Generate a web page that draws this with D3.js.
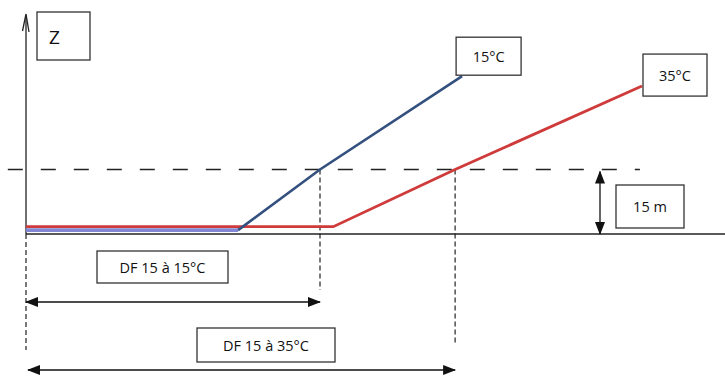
<!DOCTYPE html>
<html><head><meta charset="utf-8">
<script src="https://cdn.jsdelivr.net/npm/d3@7"></script>
<style>body{margin:0;background:#fff}svg{display:block}text{font-family:"Open Sans",Lato,sans-serif;fill:#111}</style>
</head><body><svg id="c" width="725" height="376"></svg>
<script>
// distance (arbitrary units) vs Z (m)
const series15 = [[0,0.9],[30.3,0.9],[42,15],[62.3,36.7]];
const series35 = [[0,1.7],[43.9,1.7],[61.3,15],[88,34.4]];
const zRef = 15;
const dfValues = [42, 61.3];
const dfLabels = ["DF 15 à 15°C", "DF 15 à 35°C"];
const seriesLabels = ["15°C", "35°C"];
const refLabel = "15 m";
const axisLabel = "Z";

const svg = d3.select("#c");
const x = d3.scaleLinear().domain([0,100]).range([26,726]);
const y = d3.scaleLinear().domain([0,15]).range([234,169.5]);
const line = d3.line().x(d=>x(d[0])).y(d=>y(d[1]));

const defs = svg.append("defs");
defs.append("marker").attr("id","ah").attr("viewBox","0 0 13 10").attr("refX",12).attr("refY",5)
  .attr("markerWidth",13).attr("markerHeight",10).attr("markerUnits","userSpaceOnUse").attr("orient","auto-start-reverse")
  .append("path").attr("d","M0,0L13,5L0,10Z").attr("fill","#111");

// reference dashed line at 15 m
svg.append("line").attr("x1",x(-2.6)).attr("x2",x(87.7)).attr("y1",y(zRef)).attr("y2",y(zRef))
  .attr("stroke","#222").attr("stroke-width",1.6).attr("stroke-dasharray","15,18");

// baseline
svg.append("line").attr("x1",x(0)).attr("x2",x(100)).attr("y1",y(0)).attr("y2",y(0))
  .attr("stroke","#222").attr("stroke-width",1.6);

// Y axis
svg.append("line").attr("x1",x(0)).attr("x2",x(0)).attr("y1",15).attr("y2",y(0)).attr("stroke","#222").attr("stroke-width",1.3);
svg.append("line").attr("x1",x(0)).attr("x2",x(0)).attr("y1",y(0)).attr("y2",350).attr("stroke","#222").attr("stroke-width",1.2).attr("stroke-dasharray","5,3");
svg.append("path").attr("d",`M${x(0)-3.5},31L${x(0)},14L${x(0)+3},32`).attr("fill","none").attr("stroke","#222").attr("stroke-width",1.3);

// Z box
svg.append("rect").attr("x",37).attr("y",12).attr("width",53).attr("height",48).attr("fill","#fff").attr("stroke","#333").attr("stroke-width",1.3);
svg.append("text").attr("x",49).attr("y",44).attr("font-size",19).text(axisLabel);

// vertical DF dashed lines
const dfBottoms = [290, 345];
dfValues.forEach((v,i)=>{
  svg.append("line").attr("x1",x(v)).attr("x2",x(v)).attr("y1",y(zRef)).attr("y2",dfBottoms[i])
    .attr("stroke","#222").attr("stroke-width",1.2).attr("stroke-dasharray","5,3");
});

// series 35 (red)
svg.append("path").datum(series35).attr("d",line).attr("fill","none").attr("stroke","#cf3a3a").attr("stroke-width",2.8);
// series 15 (blue): flat part lighter
svg.append("path").datum(series15.slice(0,2)).attr("d",line).attr("fill","none").attr("stroke","#8388d4").attr("stroke-width",3.8);
svg.append("path").datum(series15.slice(1)).attr("d",line).attr("fill","none").attr("stroke","#34507f").attr("stroke-width",2.6);

// series labels
const e15 = series15[series15.length-1], e35 = series35[series35.length-1];
function box(x0,y0,w,h,t,fs){
  svg.append("rect").attr("x",x0).attr("y",y0).attr("width",w).attr("height",h).attr("fill","#fff").attr("stroke","#333").attr("stroke-width",1.3);
  svg.append("text").attr("x",x0+w/2).attr("y",y0+h/2).attr("text-anchor","middle").attr("dominant-baseline","central").attr("font-size",fs).text(t);
}
box(x(e15[0])-6, y(e15[1])-39, 65, 38, seriesLabels[0], 14.5);
box(x(e35[0])+1, y(e35[1])-32, 64, 42, seriesLabels[1], 14.5);

// 15 m double arrow and box
svg.append("line").attr("x1",600).attr("x2",600).attr("y1",y(zRef)+2).attr("y2",y(0))
  .attr("stroke","#111").attr("stroke-width",1.3).attr("marker-start","url(#ah)").attr("marker-end","url(#ah)");
box(616,185,68,43,refLabel,14.5);

// DF arrows and boxes
const arrowY = [302, 370];
const arrowX0 = [26, 28];
dfValues.forEach((v,i)=>{
  svg.append("line").attr("x1",arrowX0[i]).attr("x2",x(v)).attr("y1",arrowY[i]).attr("y2",arrowY[i])
    .attr("stroke","#111").attr("stroke-width",1.6).attr("marker-start","url(#ah)").attr("marker-end","url(#ah)");
});
box(97,251,131,32,dfLabels[0],14.5);
box(197,328,138,34,dfLabels[1],14.5);
</script></body></html>
